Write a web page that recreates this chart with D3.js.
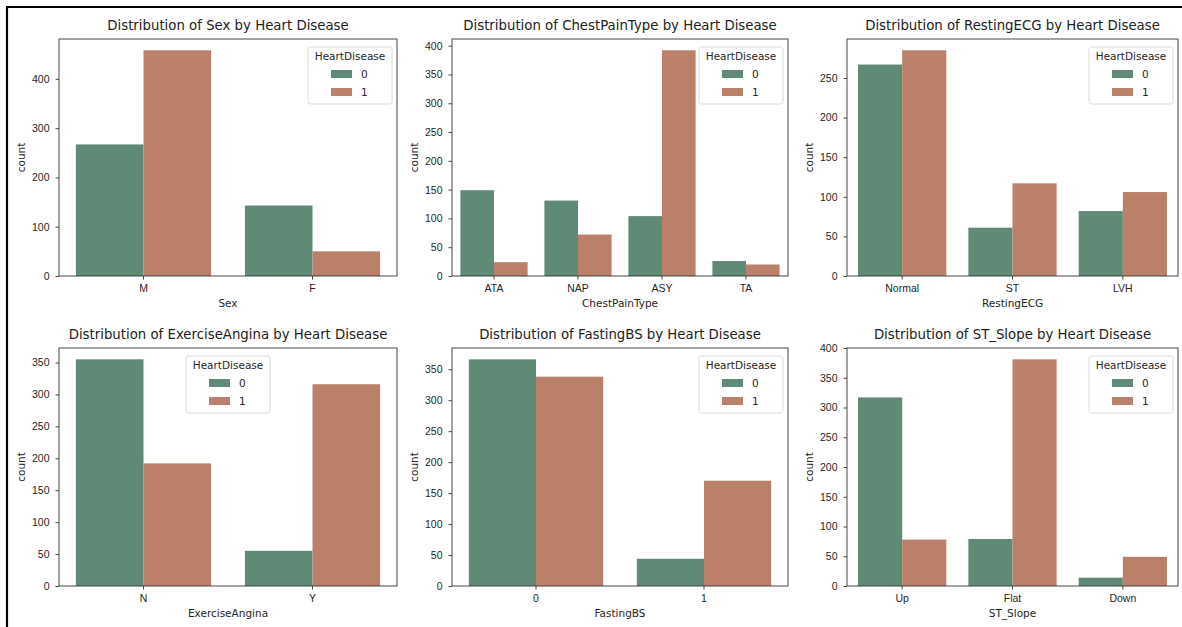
<!DOCTYPE html>
<html>
<head>
<meta charset="utf-8">
<script src="https://cdn.jsdelivr.net/npm/d3@7"></script>
<style>
  body { margin: 0; background: #fff; }
  svg { display: block; font-family: "DejaVu Sans", sans-serif; }
  .tick text { fill: #262626; }
</style>
</head>
<body>
<script>
var hueLevels = ["0", "1"];

var sexCats = ["M", "F"],
    sexNo = [267, 143],
    sexYes = [458, 50];

var chestCats = ["ATA", "NAP", "ASY", "TA"],
    chestNo = [149, 131, 104, 26],
    chestYes = [24, 72, 392, 20];

var ecgCats = ["Normal", "ST", "LVH"],
    ecgNo = [267, 61, 82],
    ecgYes = [285, 117, 106];

var anginaCats = ["N", "Y"],
    anginaNo = [355, 55],
    anginaYes = [192, 316];

var fastingCats = ["0", "1"],
    fastingNo = [366, 44],
    fastingYes = [338, 170];

var slopeCats = ["Up", "Flat", "Down"],
    slopeNo = [317, 79, 14],
    slopeYes = [78, 381, 49];

var width = 1182, height = 627;
var colors = {"0": "#5f8a76", "1": "#bb806a"};

// grid of the 2x3 subplots
var cols = [[59, 397], [452, 788], [847, 1178]];
var rows = [[39, 276], [348, 586]];

var panels = [
  {name: "Sex", cats: sexCats, no: sexNo, yes: sexYes, step: 100, legend: "right"},
  {name: "ChestPainType", cats: chestCats, no: chestNo, yes: chestYes, step: 50, legend: "right"},
  {name: "RestingECG", cats: ecgCats, no: ecgNo, yes: ecgYes, step: 50, legend: "right"},
  {name: "ExerciseAngina", cats: anginaCats, no: anginaNo, yes: anginaYes, step: 50, legend: "center"},
  {name: "FastingBS", cats: fastingCats, no: fastingNo, yes: fastingYes, step: 50, legend: "right"},
  {name: "ST_Slope", cats: slopeCats, no: slopeNo, yes: slopeYes, step: 50, legend: "right"}
];

var svg = d3.select("body").append("svg")
    .attr("width", width)
    .attr("height", height);

svg.append("path")
    .attr("d", "M7," + height + "V7H" + width)
    .attr("fill", "none")
    .attr("stroke", "#000")
    .attr("stroke-width", 2.2);

panels.forEach(function(p, i) {
  var cx = cols[i % 3], ry = rows[Math.floor(i / 3)];
  var w = cx[1] - cx[0], h = ry[1] - ry[0];

  var data = p.cats.map(function(c, j) {
    return {cat: c, values: [{hue: "0", v: p.no[j]}, {hue: "1", v: p.yes[j]}]};
  });
  var maxV = d3.max(p.no.concat(p.yes));

  var x = d3.scaleBand().domain(p.cats).range([0, w]).paddingInner(0.2).paddingOuter(0.1);
  var xh = d3.scaleBand().domain(hueLevels).range([0, x.bandwidth()]);
  var y = d3.scaleLinear().domain([0, maxV * 1.05]).range([h, 0]);

  var g = svg.append("g").attr("transform", "translate(" + cx[0] + "," + ry[0] + ")");

  g.selectAll("g.cat")
      .data(data)
    .enter().append("g")
      .attr("class", "cat")
      .attr("transform", function(d) { return "translate(" + x(d.cat) + ",0)"; })
    .selectAll("rect")
      .data(function(d) { return d.values; })
    .enter().append("rect")
      .attr("x", function(d) { return xh(d.hue); })
      .attr("y", function(d) { return y(d.v); })
      .attr("width", xh.bandwidth())
      .attr("height", function(d) { return h - y(d.v); })
      .attr("fill", function(d) { return colors[d.hue]; });

  var yTicks = d3.range(0, maxV * 1.05 + 0.01, p.step);

  var yAxis = g.append("g")
      .call(d3.axisLeft(y).tickValues(yTicks).tickSize(3.5).tickPadding(6).tickFormat(d3.format("d")));
  var xAxis = g.append("g")
      .attr("transform", "translate(0," + h + ")")
      .call(d3.axisBottom(x).tickSize(3.5).tickPadding(5.5));

  [xAxis, yAxis].forEach(function(a) {
    a.select(".domain").remove();
    a.selectAll(".tick line").attr("stroke", "#333").attr("stroke-width", 0.9);
    a.selectAll(".tick text").style("font-size", "10.5px");
  });

  g.append("rect")
      .attr("width", w)
      .attr("height", h)
      .attr("fill", "none")
      .attr("stroke", "#333")
      .attr("stroke-width", 0.9);

  g.append("text")
      .attr("x", w / 2)
      .attr("y", -9)
      .attr("text-anchor", "middle")
      .style("font-size", "13.3px")
      .attr("fill", "#222")
      .text("Distribution of " + p.name + " by Heart Disease");

  g.append("text")
      .attr("x", w / 2)
      .attr("y", h + 31)
      .attr("text-anchor", "middle")
      .style("font-size", "10.5px")
      .attr("fill", "#262626")
      .text(p.name);

  g.append("text")
      .attr("transform", "translate(-34," + (h / 2) + ") rotate(-90)")
      .attr("text-anchor", "middle")
      .style("font-size", "10.5px")
      .attr("fill", "#262626")
      .text("count");

  // legend
  var lw = 84, lh = 57;
  var lx = p.legend === "center" ? (w - lw) / 2 : w - lw - 5;
  var lg = g.append("g").attr("transform", "translate(" + lx + ",8)");
  lg.append("rect")
      .attr("width", lw)
      .attr("height", lh)
      .attr("rx", 2.5)
      .attr("fill", "#fff")
      .attr("fill-opacity", 0.8)
      .attr("stroke", "#d6d6d6")
      .attr("stroke-width", 0.9);
  lg.append("text")
      .attr("x", lw / 2)
      .attr("y", 13)
      .attr("text-anchor", "middle")
      .style("font-size", "10.5px")
      .attr("fill", "#262626")
      .text("HeartDisease");
  var item = lg.selectAll("g.item")
      .data(hueLevels)
    .enter().append("g")
      .attr("class", "item")
      .attr("transform", function(d, k) { return "translate(23," + (23 + k * 18) + ")"; });
  item.append("rect")
      .attr("width", 21)
      .attr("height", 8)
      .attr("fill", function(d) { return colors[d]; });
  item.append("text")
      .attr("x", 30)
      .attr("y", 8)
      .style("font-size", "10.5px")
      .attr("fill", "#262626")
      .text(function(d) { return d; });
});
</script>
</body>
</html>
